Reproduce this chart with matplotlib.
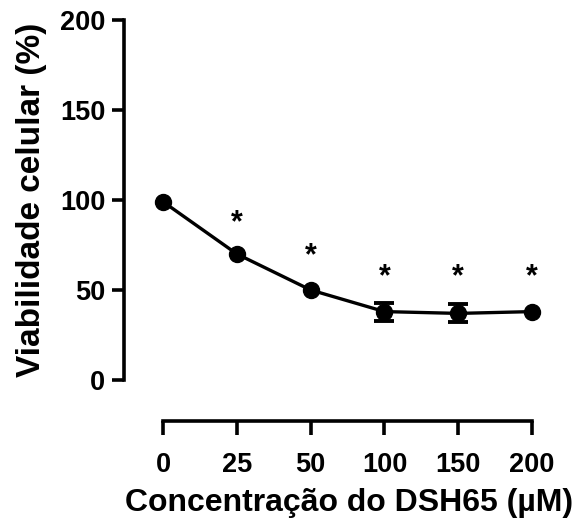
import matplotlib
matplotlib.use("Agg")
import matplotlib.pyplot as plt

plt.rcParams['font.family'] = ['Liberation Sans', 'DejaVu Sans']
plt.rcParams['font.weight'] = 'bold'

# Cell viability vs. DSH65 concentration
concentrations = ["0", "25", "50", "100", "150", "200"]
viability = [99, 70, 50, 38, 37, 38]
sem = [1.0, 1.5, 1.5, 5.0, 5.0, 1.5]
star_y = [None, 87, 69, 57, 57, 57]

fig = plt.figure(figsize=(5.82, 5.23), dpi=100)
W, H = 582, 523
left, right, top, bottom = 124, 552, 20, 380
ax = fig.add_axes([left / W, 1 - bottom / H, (right - left) / W, (bottom - top) / H])

x = list(range(len(concentrations)))
ax.plot(x, viability, color='black', lw=2.4, marker='o', ms=11.5, zorder=3)

# error bars shorter than the symbol radius stay hidden behind it
shown = [i for i, e in enumerate(sem) if e > 3]
ax.errorbar([x[i] for i in shown], [viability[i] for i in shown],
            yerr=[sem[i] for i in shown], fmt='none', ecolor='black',
            capsize=7.5, capthick=2.8, elinewidth=2.8, zorder=4)

for xi, sy in zip(x, star_y):
    if sy is not None:
        ax.text(xi, sy, "*", ha='center', va='center', fontsize=22, fontweight='bold')

ax.set_ylim(0, 200)
ax.set_xlim(-0.53, 5.27)
ax.set_yticks([0, 50, 100, 150, 200])
ax.set_xticks(x)
ax.set_xticklabels(concentrations)

for s in ['top', 'right']:
    ax.spines[s].set_visible(False)
ax.spines['left'].set_linewidth(2.6)
ax.spines['bottom'].set_linewidth(2.6)
ax.spines['bottom'].set_position(('outward', 29.5))
ax.spines['bottom'].set_bounds(0, 5)
ax.spines['left'].set_bounds(0, 200)

ax.tick_params(axis='y', direction='out', length=8.5, width=2.6, pad=5, labelsize=19.5)
ax.tick_params(axis='x', direction='out', length=10, width=2.6, pad=12, labelsize=19.5)
for lbl in ax.get_xticklabels() + ax.get_yticklabels():
    lbl.set_fontweight('bold')

ax.set_ylabel("Viabilidade celular (%)", fontsize=24, fontweight='bold')
ax.yaxis.set_label_coords(-0.18, 0.5)
ax.set_xlabel("Concentração do DSH65 (µM)", fontsize=23, fontweight='bold', va='top')
ax.xaxis.set_label_coords(0.526, -0.30)

fig.savefig("out.png", dpi=100)
